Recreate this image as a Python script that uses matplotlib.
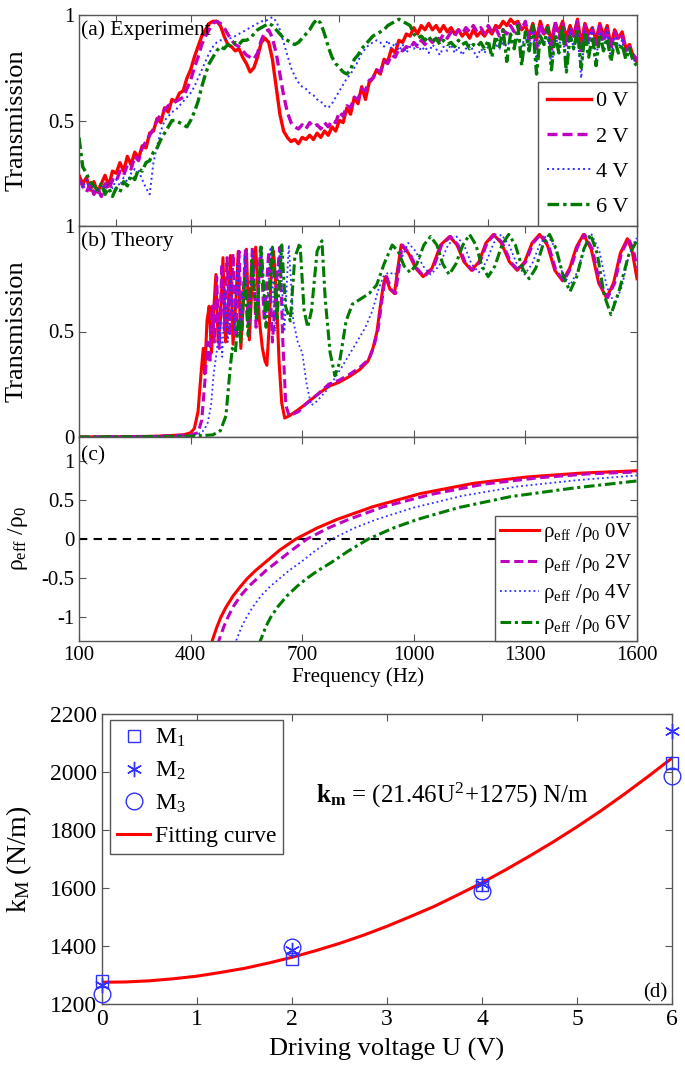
import numpy as np
import matplotlib
matplotlib.use("Agg")
import matplotlib.pyplot as plt
from matplotlib.ticker import FormatStrFormatter

plt.rcParams['font.family'] = ['Liberation Serif', 'DejaVu Serif']
plt.rcParams['mathtext.fontset'] = 'custom'
plt.rcParams['mathtext.rm'] = 'Liberation Serif'
plt.rcParams['mathtext.it'] = 'Liberation Serif:italic'
plt.rcParams['mathtext.bf'] = 'Liberation Serif:bold'
plt.rcParams['axes.unicode_minus'] = False

# ---------------- (a) experiment, sampled every 10 Hz ----------------
freq_exp = np.arange(100, 1601, 10)
exp_0v = [0.24, 0.20, 0.23, 0.17, 0.21, 0.16, 0.20, 0.24, 0.19, 0.26,
          0.25, 0.30, 0.26, 0.33, 0.29, 0.35, 0.32, 0.38, 0.37, 0.44,
          0.45, 0.51, 0.49, 0.56, 0.54, 0.60, 0.59, 0.63, 0.64, 0.70,
          0.74, 0.80, 0.85, 0.90, 0.93, 0.96, 0.97, 0.97, 0.95, 0.90,
          0.86, 0.85, 0.83, 0.84, 0.80, 0.77, 0.73, 0.75, 0.80, 0.87,
          0.89, 0.87, 0.79, 0.66, 0.53, 0.45, 0.42, 0.40, 0.41, 0.39,
          0.42, 0.41, 0.43, 0.41, 0.44, 0.42, 0.45, 0.43, 0.47, 0.45,
          0.50, 0.49, 0.56, 0.53, 0.61, 0.58, 0.66, 0.60, 0.68, 0.70,
          0.74, 0.72, 0.79, 0.78, 0.84, 0.82, 0.88, 0.87, 0.91, 0.90,
          0.94, 0.91, 0.95, 0.93, 0.96, 0.93, 0.95, 0.92, 0.95, 0.92,
          0.94, 0.91, 0.93, 0.90, 0.92, 0.89, 0.93, 0.90, 0.92, 0.90,
          0.93, 0.91, 0.95, 0.94, 0.97, 0.95, 0.98, 0.96, 0.97, 0.93,
          0.95, 0.90, 0.96, 0.88, 0.97, 0.91, 0.95, 0.87, 0.96, 0.92,
          0.97, 0.89, 0.95, 0.90, 0.98, 0.86, 0.96, 0.91, 0.94, 0.88,
          0.96, 0.90, 0.95, 0.85, 0.93, 0.89, 0.92, 0.84, 0.86, 0.80,
          0.78]
exp_2v = [0.22, 0.19, 0.16, 0.20, 0.15, 0.18, 0.14, 0.20, 0.17, 0.22,
          0.21, 0.26, 0.24, 0.29, 0.27, 0.33, 0.31, 0.37, 0.40, 0.43,
          0.46, 0.50, 0.53, 0.55, 0.57, 0.58, 0.59, 0.60, 0.61, 0.65,
          0.69, 0.75, 0.80, 0.86, 0.90, 0.93, 0.96, 0.97, 0.96, 0.94,
          0.91, 0.88, 0.86, 0.85, 0.83, 0.81, 0.80, 0.79, 0.82, 0.88,
          0.92, 0.93, 0.89, 0.82, 0.72, 0.62, 0.54, 0.49, 0.47, 0.46,
          0.48, 0.46, 0.49, 0.47, 0.48, 0.46, 0.49, 0.47, 0.50, 0.49,
          0.54, 0.52, 0.57, 0.56, 0.61, 0.60, 0.65, 0.64, 0.69, 0.70,
          0.74, 0.73, 0.78, 0.77, 0.81, 0.80, 0.84, 0.83, 0.85, 0.84,
          0.87, 0.85, 0.88, 0.86, 0.89, 0.87, 0.90, 0.88, 0.91, 0.89,
          0.92, 0.90, 0.93, 0.91, 0.94, 0.92, 0.95, 0.92, 0.94, 0.91,
          0.95, 0.92, 0.94, 0.90, 0.93, 0.91, 0.95, 0.92, 0.96, 0.93,
          0.97, 0.88, 0.95, 0.84, 0.96, 0.90, 0.94, 0.83, 0.97, 0.89,
          0.96, 0.85, 0.94, 0.90, 0.97, 0.82, 0.95, 0.88, 0.93, 0.86,
          0.95, 0.87, 0.93, 0.84, 0.92, 0.88, 0.90, 0.83, 0.85, 0.81,
          0.79]
exp_4v = [0.21, 0.18, 0.22, 0.17, 0.20, 0.16, 0.19, 0.17, 0.21, 0.18,
          0.22, 0.19, 0.23, 0.21, 0.25, 0.27, 0.26, 0.22, 0.18, 0.15,
          0.30, 0.38, 0.45, 0.50, 0.52, 0.54, 0.55, 0.57, 0.59, 0.61,
          0.63, 0.66, 0.70, 0.74, 0.78, 0.82, 0.85, 0.87, 0.88, 0.88,
          0.89, 0.89, 0.90, 0.91, 0.92, 0.93, 0.94, 0.95, 0.96, 0.97,
          0.97, 0.98, 0.99, 0.97, 0.93, 0.87, 0.81, 0.75, 0.71, 0.68,
          0.66, 0.65, 0.63, 0.62, 0.60, 0.59, 0.57, 0.56, 0.58, 0.61,
          0.64, 0.67, 0.70, 0.72, 0.75, 0.78, 0.82, 0.84, 0.86, 0.87,
          0.88, 0.87, 0.85, 0.88, 0.84, 0.87, 0.83, 0.86, 0.82, 0.85,
          0.84, 0.86, 0.83, 0.85, 0.82, 0.86, 0.84, 0.81, 0.85, 0.83,
          0.86, 0.82, 0.85, 0.81, 0.84, 0.86, 0.83, 0.80, 0.84, 0.82,
          0.85, 0.83, 0.86, 0.84, 0.87, 0.85, 0.88, 0.86, 0.89, 0.85,
          0.90, 0.84, 0.92, 0.78, 0.91, 0.86, 0.93, 0.75, 0.90, 0.85,
          0.92, 0.74, 0.94, 0.83, 0.91, 0.70, 0.93, 0.86, 0.95, 0.79,
          0.92, 0.84, 0.94, 0.78, 0.90, 0.85, 0.88, 0.80, 0.83, 0.79,
          0.77]
exp_6v = [0.42, 0.28, 0.25, 0.21, 0.19, 0.17, 0.20, 0.15, 0.18, 0.14,
          0.18, 0.16, 0.21, 0.19, 0.24, 0.22, 0.27, 0.26, 0.30, 0.31,
          0.35, 0.37, 0.41, 0.44, 0.47, 0.50, 0.50, 0.49, 0.48, 0.47,
          0.50, 0.54, 0.59, 0.66, 0.72, 0.77, 0.80, 0.83, 0.85, 0.84,
          0.86, 0.85, 0.87, 0.86, 0.88, 0.88, 0.89, 0.91, 0.93, 0.94,
          0.95, 0.96, 0.95, 0.93, 0.91, 0.89, 0.88, 0.87, 0.86, 0.87,
          0.89, 0.91, 0.93, 0.96, 0.98, 0.96, 0.91, 0.85, 0.80, 0.77,
          0.75, 0.73, 0.72, 0.74, 0.79, 0.81, 0.84, 0.86, 0.88, 0.90,
          0.91, 0.92, 0.93, 0.95, 0.96, 0.97, 0.98, 0.97, 0.96, 0.95,
          0.91, 0.89, 0.90, 0.88, 0.90, 0.87, 0.89, 0.86, 0.88, 0.86,
          0.87, 0.85, 0.88, 0.86, 0.87, 0.84, 0.86, 0.85, 0.87, 0.84,
          0.88, 0.80, 0.90, 0.85, 0.93, 0.78, 0.91, 0.84, 0.95, 0.76,
          0.92, 0.83, 0.95, 0.72, 0.90, 0.86, 0.94, 0.74, 0.91, 0.82,
          0.95, 0.73, 0.90, 0.84, 0.93, 0.75, 0.92, 0.80, 0.90, 0.76,
          0.91, 0.83, 0.89, 0.78, 0.88, 0.82, 0.86, 0.79, 0.84, 0.78,
          0.76]

# ---------------- (b) theory ----------------
th_f_0v = [100, 300, 380, 400, 410, 420, 428, 434, 438, 444, 450, 456, 462, 468, 474, 480,
           487, 494, 500, 507, 514, 521, 528, 535, 542, 550, 558, 565, 575, 585, 593, 600,
           605, 612, 617, 623, 630, 638, 645, 653, 665, 690, 712, 740, 771, 800, 830, 855,
           877, 890, 901, 910, 918, 924, 936, 948, 957, 966, 986, 1005, 1025, 1049, 1072,
           1096, 1116, 1135, 1155, 1175, 1194, 1214, 1235, 1257, 1278, 1298, 1318, 1338,
           1359, 1379, 1400, 1419, 1437, 1456, 1477, 1497, 1518, 1537, 1555, 1574, 1587, 1600]
th_t_0v = [0.0, 0.003, 0.01, 0.02, 0.04, 0.12, 0.30, 0.42, 0.30, 0.55, 0.62, 0.40, 0.60, 0.77, 0.45, 0.55,
           0.85, 0.45, 0.58, 0.86, 0.44, 0.62, 0.88, 0.42, 0.66, 0.89, 0.46, 0.72, 0.90, 0.55, 0.42, 0.36,
           0.34, 0.55, 0.80, 0.88, 0.70, 0.35, 0.16, 0.09, 0.10, 0.13, 0.16, 0.20, 0.24, 0.26, 0.29, 0.32,
           0.36, 0.42, 0.50, 0.62, 0.72, 0.76, 0.70, 0.68, 0.80, 0.91, 0.87, 0.80, 0.76, 0.80, 0.91,
           0.95, 0.91, 0.83, 0.79, 0.83, 0.92, 0.96, 0.92, 0.83, 0.79, 0.83, 0.92, 0.96,
           0.91, 0.79, 0.74, 0.80, 0.90, 0.96, 0.89, 0.73, 0.66, 0.73, 0.87, 0.94, 0.88, 0.75]

th_f_2v = [100, 300, 400, 420, 430, 440, 446, 452, 458, 464, 470, 477, 484, 491, 498, 506,
           514, 522, 530, 538, 547, 556, 566, 576, 588, 598, 610, 620, 630, 640, 648, 656,
           665, 690, 712, 740, 771, 800, 830, 855, 880, 893, 904, 913, 921, 927, 939, 951,
           960, 969, 989, 1008, 1028, 1052, 1075, 1099, 1119, 1138, 1158, 1178, 1197, 1217,
           1238, 1260, 1281, 1301, 1321, 1341, 1362, 1382, 1403, 1422, 1440, 1459, 1480,
           1500, 1521, 1540, 1558, 1577, 1590, 1600]
th_t_2v = [0.0, 0.003, 0.01, 0.02, 0.08, 0.30, 0.45, 0.35, 0.62, 0.45, 0.76, 0.42, 0.82, 0.50, 0.85, 0.48,
           0.87, 0.47, 0.88, 0.50, 0.89, 0.48, 0.90, 0.52, 0.90, 0.55, 0.88, 0.45, 0.72, 0.90, 0.45, 0.15,
           0.10, 0.12, 0.16, 0.20, 0.25, 0.27, 0.30, 0.33, 0.37, 0.43, 0.51, 0.63, 0.73, 0.76, 0.70, 0.68,
           0.80, 0.91, 0.87, 0.80, 0.76, 0.80, 0.91, 0.95, 0.91, 0.83, 0.79, 0.83, 0.92, 0.96,
           0.92, 0.83, 0.79, 0.83, 0.92, 0.96, 0.91, 0.79, 0.74, 0.80, 0.90, 0.96, 0.89,
           0.73, 0.66, 0.73, 0.87, 0.94, 0.89, 0.80]

th_f_4v = [100, 300, 400, 430, 445, 455, 462, 470, 478, 485, 492, 500, 508, 517, 526, 536,
           546, 556, 567, 578, 590, 602, 615, 627, 640, 652, 664, 676, 688, 700, 712, 724,
           740, 770, 806, 840, 870, 889, 905, 918, 932, 950, 968, 985, 1005, 1025, 1045,
           1068, 1092, 1115, 1135, 1155, 1175, 1195, 1215, 1235, 1256, 1277, 1298, 1318,
           1338, 1358, 1379, 1399, 1420, 1439, 1459, 1478, 1499, 1519, 1540, 1559, 1578,
           1597, 1600]
th_t_4v = [0.0, 0.002, 0.005, 0.02, 0.06, 0.15, 0.30, 0.40, 0.55, 0.38, 0.70, 0.45, 0.76, 0.50, 0.82, 0.52,
           0.86, 0.55, 0.88, 0.55, 0.90, 0.52, 0.90, 0.50, 0.90, 0.50, 0.91, 0.55, 0.45, 0.40, 0.25, 0.15,
           0.17, 0.23, 0.33, 0.43, 0.52, 0.60, 0.70, 0.76, 0.78, 0.77, 0.85, 0.92, 0.88, 0.81, 0.77,
           0.81, 0.91, 0.95, 0.91, 0.82, 0.78, 0.83, 0.92, 0.96, 0.91, 0.82, 0.77, 0.82,
           0.91, 0.96, 0.90, 0.78, 0.72, 0.78, 0.90, 0.96, 0.88, 0.71, 0.63, 0.71, 0.86,
           0.94, 0.94]

th_f_6v = [100, 300, 400, 460, 480, 495, 505, 512, 520, 528, 535, 545, 555, 565, 577, 590,
           603, 620, 632, 645, 655, 668, 680, 694, 705, 715, 725, 740, 753, 762, 775, 788,
           800, 818, 835, 853, 880, 900, 920, 942, 958, 974, 990, 1008, 1027, 1045, 1062,
           1078, 1095, 1113, 1132, 1150, 1167, 1183, 1200, 1218, 1237, 1255, 1273, 1292,
           1310, 1328, 1347, 1365, 1383, 1402, 1420, 1438, 1457, 1475, 1493, 1512, 1530,
           1553, 1577, 1600]
th_t_6v = [0.0, 0.002, 0.004, 0.01, 0.03, 0.10, 0.30, 0.42, 0.40, 0.55, 0.45, 0.75, 0.48, 0.85, 0.55, 0.90,
           0.52, 0.90, 0.55, 0.91, 0.62, 0.55, 0.85, 0.92, 0.60, 0.52, 0.60, 0.88, 0.93, 0.65, 0.40, 0.29,
           0.35, 0.55, 0.63, 0.65, 0.68, 0.72, 0.82, 0.91, 0.88, 0.81, 0.78, 0.82, 0.91, 0.95, 0.91,
           0.82, 0.77, 0.82, 0.91, 0.96, 0.91, 0.81, 0.76, 0.81, 0.91, 0.96, 0.91, 0.80,
           0.75, 0.80, 0.91, 0.96, 0.89, 0.76, 0.69, 0.76, 0.89, 0.96, 0.87, 0.67, 0.58,
           0.70, 0.86, 0.93]

# ---------------- (c) effective density ----------------
rho_f_0v = [455, 460, 470, 481, 495, 515, 535, 553, 575, 600, 640, 683, 740, 794, 889, 1019, 1161, 1303, 1450, 1600]
rho_0v = [-1.35, -1.27, -1.13, -1.0, -0.87, -0.72, -0.60, -0.50, -0.40, -0.30, -0.14, 0.0, 0.14, 0.25, 0.41, 0.58, 0.71, 0.79, 0.84, 0.87]
rho_f_2v = [472, 480, 490, 500, 515, 535, 557, 580, 603, 630, 670, 713, 770, 825, 918, 1048, 1190, 1335, 1470, 1600]
rho_2v = [-1.35, -1.24, -1.11, -1.0, -0.86, -0.72, -0.60, -0.50, -0.40, -0.30, -0.15, 0.0, 0.14, 0.25, 0.41, 0.57, 0.70, 0.78, 0.83, 0.855]
rho_f_4v = [518, 527, 538, 550, 568, 590, 615, 640, 665, 695, 735, 780, 840, 900, 1000, 1130, 1280, 1440, 1600]
rho_4v = [-1.35, -1.24, -1.11, -1.0, -0.86, -0.72, -0.60, -0.50, -0.40, -0.30, -0.15, 0.0, 0.14, 0.25, 0.40, 0.55, 0.67, 0.75, 0.81]
rho_f_6v = [583, 593, 603, 615, 635, 660, 687, 713, 743, 778, 825, 878, 945, 1010, 1120, 1260, 1430, 1600]
rho_6v = [-1.35, -1.23, -1.11, -1.0, -0.86, -0.72, -0.60, -0.50, -0.40, -0.30, -0.15, 0.0, 0.14, 0.25, 0.40, 0.54, 0.65, 0.74]

# ---------------- (d) stiffness vs voltage ----------------
volts = [0, 2, 4, 6]
k_m1 = [1280, 1355, 1610, 2030]
k_m2 = [1265, 1385, 1615, 2140]
k_m3 = [1235, 1395, 1590, 1985]
fit_u = [0, 0.25, 0.5, 0.75, 1, 1.25, 1.5, 1.75, 2, 2.25, 2.5, 2.75, 3, 3.25, 3.5,
         3.75, 4, 4.25, 4.5, 4.75, 5, 5.25, 5.5, 5.75, 6]
fit_k = [1275, 1276, 1280, 1287, 1296, 1309, 1323, 1341, 1361, 1384, 1409, 1437, 1468,
         1502, 1537, 1577, 1618, 1663, 1710, 1759, 1811, 1866, 1924, 1985, 2048]

red = '#ff0000'
mag = '#c000c0'
blu = '#3030ff'
grn = '#007a00'
edge = '#555555'

fig = plt.figure(figsize=(6.85, 10.73), dpi=100)
W, H = 685.0, 1073.0
ax_a = fig.add_axes([79 / W, 1 - 226 / H, 558 / W, 211 / H])
ax_b = fig.add_axes([79 / W, 1 - 437 / H, 558 / W, 211 / H])
ax_c = fig.add_axes([79 / W, 1 - 641 / H, 558 / W, 204 / H])
ax_d = fig.add_axes([102 / W, 1 - 1004 / H, 570 / W, 290 / H])

for ax in (ax_a, ax_b, ax_c, ax_d):
    for s in ax.spines.values():
        s.set_color(edge)
        s.set_linewidth(1.0)
    ax.tick_params(direction='in', top=True, right=True, color=edge, length=5, labelsize=15)

# (a)
ax_a.plot(freq_exp, exp_0v, color=red, lw=2.4, ls='-', label='0 V')
ax_a.plot(freq_exp, exp_2v, color=mag, lw=2.4, ls=(0, (3, 1.5)), label='2 V')
ax_a.plot(freq_exp, exp_4v, color=blu, lw=1.4, ls=':', label='4 V')
ax_a.plot(freq_exp, exp_6v, color=grn, lw=2.4, ls=(0, (3.5, 1.2, 1, 1.2)), label='6 V')
ax_a.set_xlim(100, 1600)
ax_a.set_ylim(0, 1)
ax_a.set_xticks(range(200, 1601, 200))
ax_a.set_xticklabels([])
ax_a.set_yticks([0, 0.5, 1])
ax_a.set_yticklabels(['', '0.5', '1'])
ax_a.set_ylabel('Transmission', fontsize=19)
ax_a.yaxis.set_label_coords(-0.092, 0.5)
ax_a.text(0.004, 0.975, '(a) Experiment', transform=ax_a.transAxes, va='top', ha='left', fontsize=15.5)
leg = ax_a.legend(loc='lower right', bbox_to_anchor=(1, 0), borderaxespad=0, fontsize=16,
                  handlelength=2.0, handletextpad=0.2, labelspacing=0.66, borderpad=0.4,
                  fancybox=False, framealpha=1, edgecolor=edge)
leg.get_frame().set_linewidth(1.0)

# (b)
ax_b.plot(th_f_0v, th_t_0v, color=red, lw=2.2, ls='-')
ax_b.plot(th_f_2v, th_t_2v, color=mag, lw=2.2, ls=(0, (3, 1.5)))
ax_b.plot(th_f_4v, th_t_4v, color=blu, lw=1.3, ls=':')
ax_b.plot(th_f_6v, th_t_6v, color=grn, lw=2.2, ls=(0, (3.5, 1.2, 1, 1.2)))
ax_b.set_xlim(100, 1600)
ax_b.set_ylim(0, 1)
ax_b.set_xticks(range(100, 1601, 300))
ax_b.set_xticklabels([])
ax_b.set_yticks([0, 0.5, 1])
ax_b.set_yticklabels(['0', '0.5', '1'])
ax_b.set_ylabel('Transmission', fontsize=19)
ax_b.yaxis.set_label_coords(-0.092, 0.5)
ax_b.text(0.004, 0.975, '(b) Theory', transform=ax_b.transAxes, va='top', ha='left', fontsize=15.5)

# (c)
ax_c.axhline(0, color='k', ls='--', lw=1.5, dashes=(4, 3))
ax_c.plot(rho_f_0v, rho_0v, color=red, lw=2.2, ls='-', label=r'ρ$_\mathrm{eff}$ /ρ$_0$ 0V')
ax_c.plot(rho_f_2v, rho_2v, color=mag, lw=2.2, ls=(0, (3, 1.5)), label=r'ρ$_\mathrm{eff}$ /ρ$_0$ 2V')
ax_c.plot(rho_f_4v, rho_4v, color=blu, lw=1.3, ls=':', label=r'ρ$_\mathrm{eff}$ /ρ$_0$ 4V')
ax_c.plot(rho_f_6v, rho_6v, color=grn, lw=2.2, ls=(0, (3.5, 1.2, 1, 1.2)), label=r'ρ$_\mathrm{eff}$ /ρ$_0$ 6V')
ax_c.set_xlim(100, 1600)
ax_c.set_ylim(-1.3, 1.3)
ax_c.set_xticks(range(100, 1601, 300))
ax_c.set_yticks([-1, -0.5, 0, 0.5, 1])
ax_c.yaxis.set_major_formatter(FormatStrFormatter('%g'))
ax_c.set_xlabel('Frequency (Hz)', fontsize=15, labelpad=2)
ax_c.set_ylabel(r'ρ$_\mathrm{eff}$ /ρ$_0$', fontsize=17)
ax_c.yaxis.set_label_coords(-0.088, 0.5)
ax_c.text(0.004, 0.955, '(c)', transform=ax_c.transAxes, va='top', ha='left', fontsize=15.5)
leg_c = ax_c.legend(loc='lower right', bbox_to_anchor=(1, 0), borderaxespad=0, fontsize=15,
                    handlelength=1.9, handletextpad=0.15, labelspacing=0.36, borderpad=0.25,
                    fancybox=False, framealpha=1, edgecolor=edge)
leg_c.get_frame().set_linewidth(1.0)

# (d)
ax_d.plot(fit_u, fit_k, color=red, lw=2.2, label='Fitting curve', zorder=2)
ax_d.plot(volts, k_m1, ls='none', marker='s', ms=9, mfc='none', mec=blu, mew=1.0, label=r'M$_1$', clip_on=False, zorder=3)
ax_d.plot(volts, k_m2, ls='none', marker=(6, 2, 0), ms=11, mfc='none', mec=blu, mew=1.0, label=r'M$_2$', clip_on=False, zorder=3)
ax_d.plot(volts, k_m3, ls='none', marker='o', ms=12, mfc='none', mec=blu, mew=1.0, label=r'M$_3$', clip_on=False, zorder=3)
ax_d.set_xlim(0, 6)
ax_d.set_ylim(1200, 2200)
ax_d.set_xticks(range(0, 7))
ax_d.set_yticks(range(1200, 2201, 200))
ax_d.tick_params(labelsize=17)
ax_d.set_xlabel('Driving voltage U (V)', fontsize=19, labelpad=6)
ax_d.set_ylabel(r'k$_\mathrm{M}$ (N/m)', fontsize=20)
ax_d.yaxis.set_label_coords(-0.12, 0.5)
ax_d.text(2.25, 1920, r'$\mathbf{k_m}$ = (21.46U$^2$+1275) N/m', fontsize=18, va='center', ha='left')
ax_d.text(5.95, 1240, '(d)', fontsize=15, va='center', ha='right')
handles, labels = ax_d.get_legend_handles_labels()
order = [1, 2, 3, 0]
leg_d = ax_d.legend([handles[i] for i in order], [labels[i] for i in order],
                    loc='upper left', bbox_to_anchor=(0.014, 0.98), borderaxespad=0, fontsize=17,
                    handlelength=1.4, handletextpad=0.2, labelspacing=0.45, borderpad=0.3,
                    fancybox=False, framealpha=1, edgecolor=edge)
leg_d.get_frame().set_linewidth(1.0)

fig.savefig('out.png', dpi=100)
